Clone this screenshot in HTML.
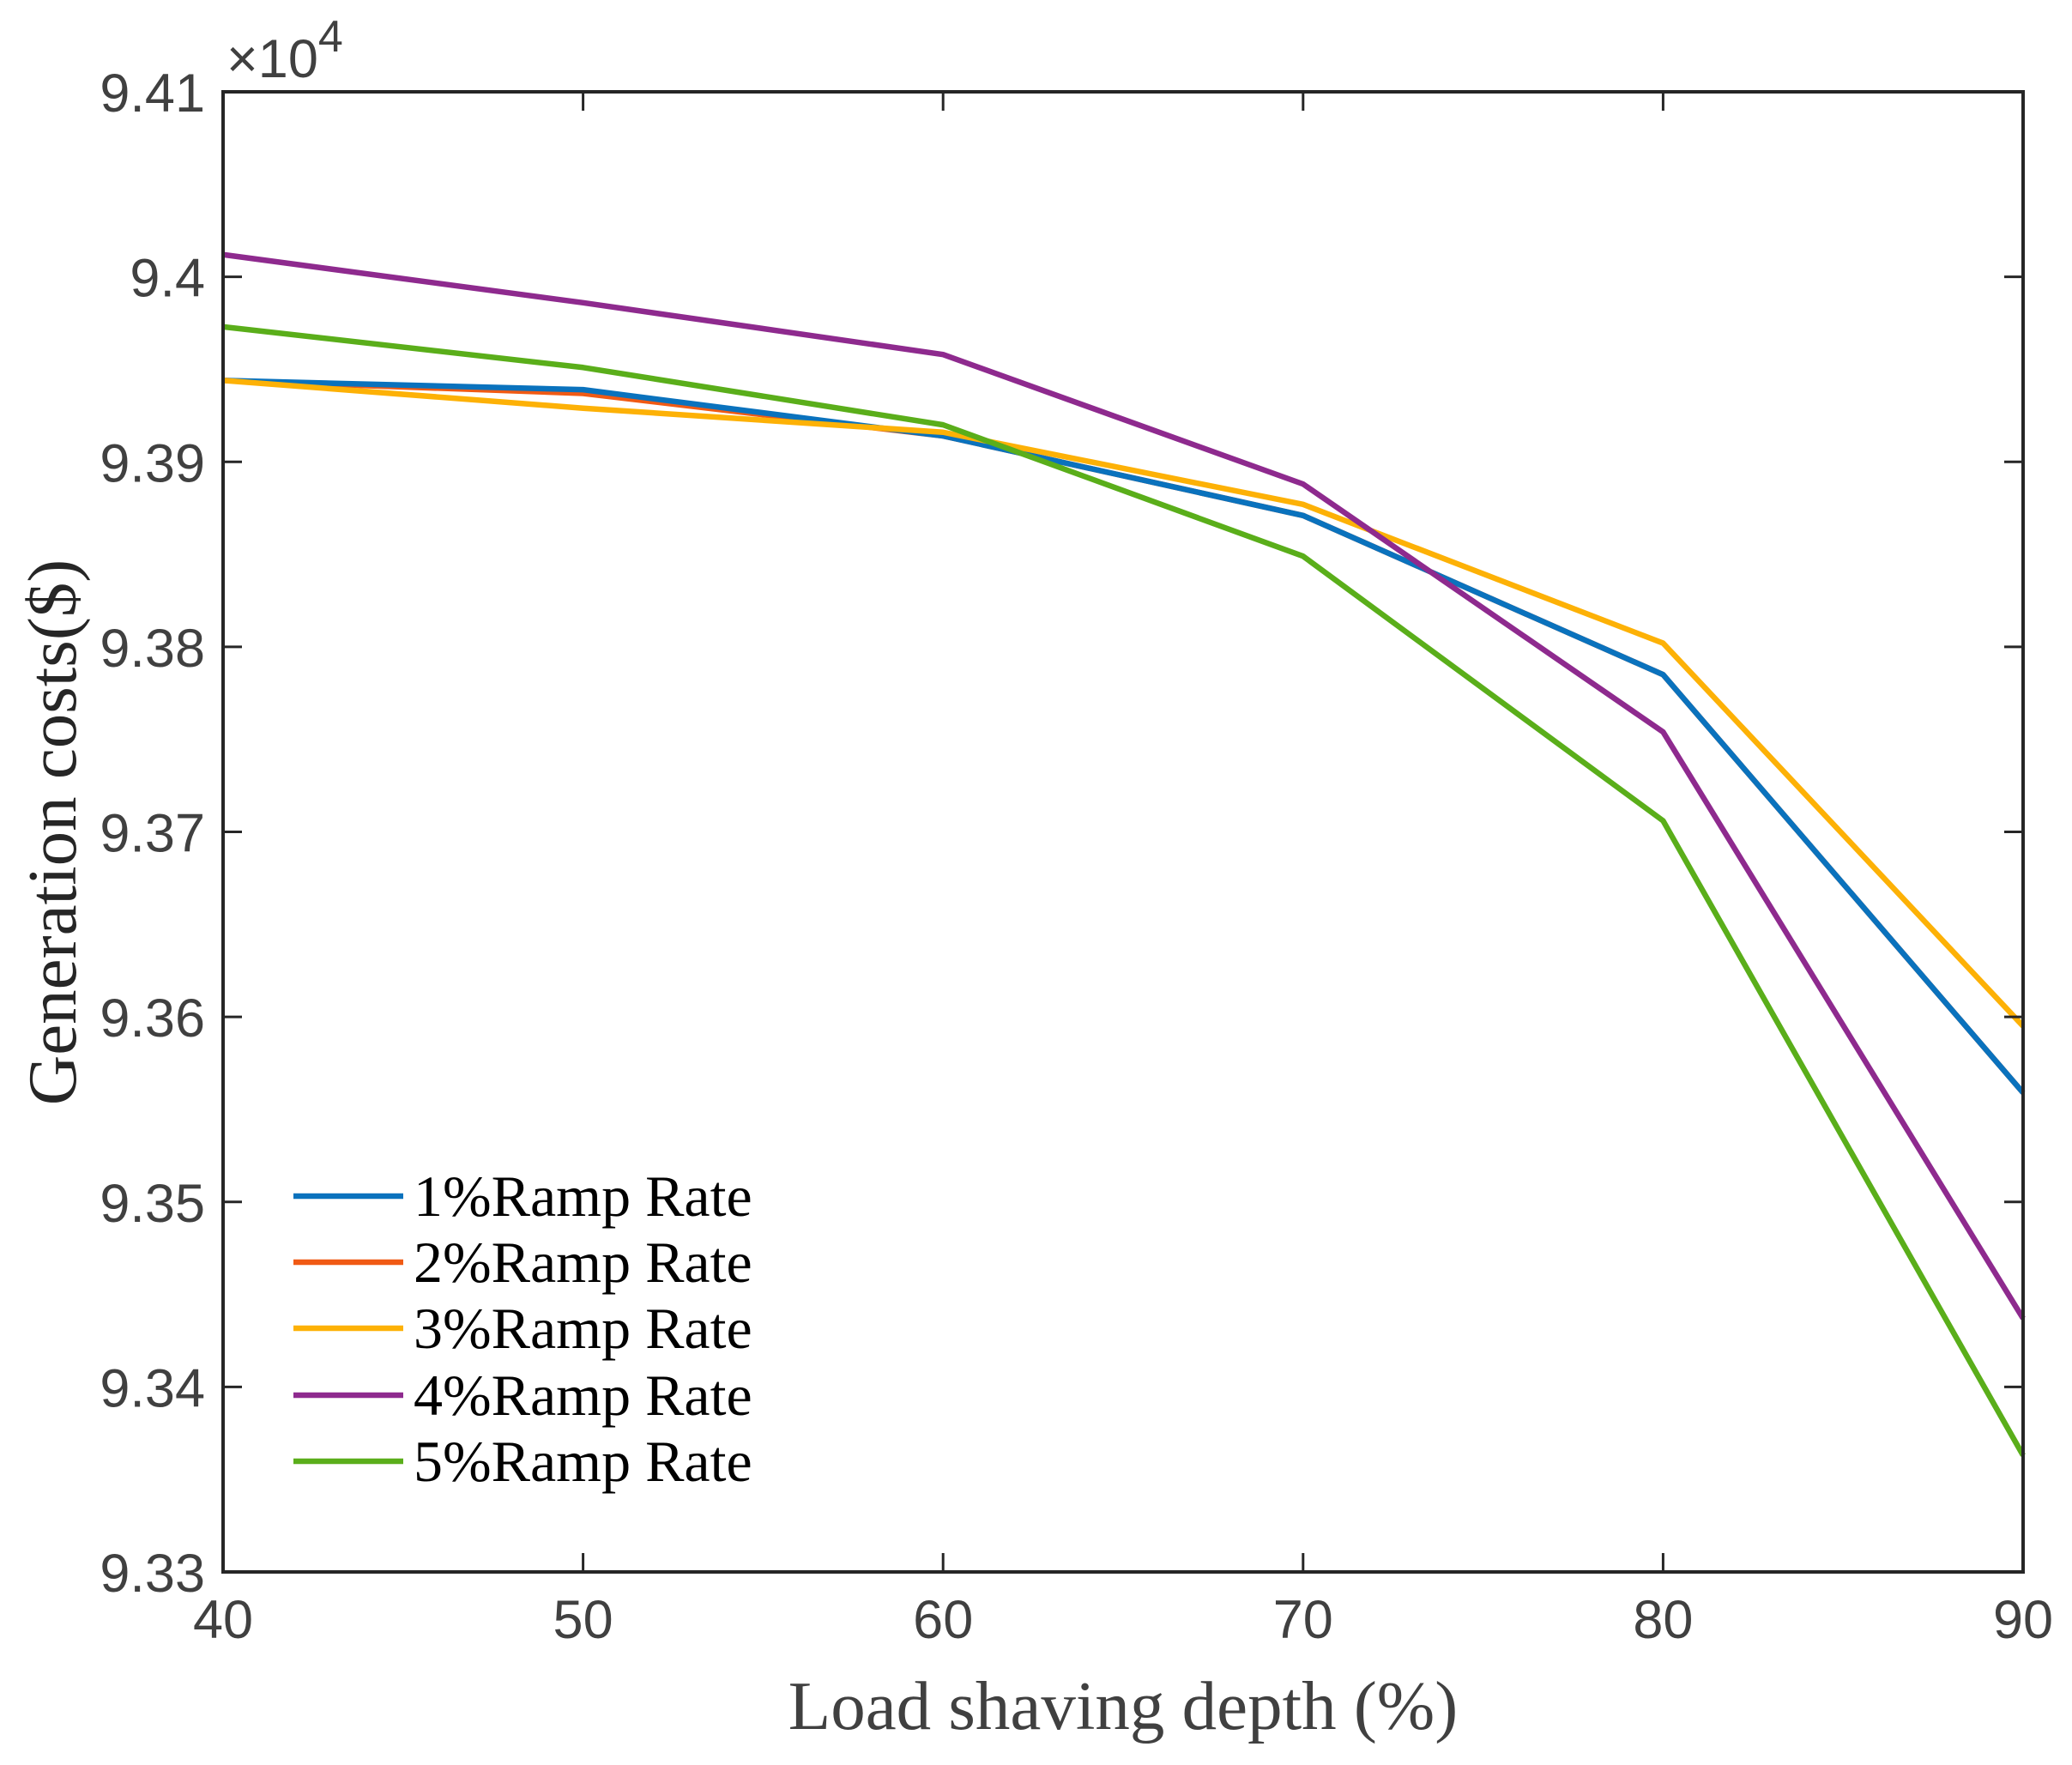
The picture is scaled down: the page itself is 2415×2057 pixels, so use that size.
<!DOCTYPE html>
<html><head><meta charset="utf-8"><style>
html,body{margin:0;padding:0;background:#fff;}
svg{display:block;}
</style></head><body>
<svg id="chart" width="2415" height="2057" viewBox="0 0 2415 2057" xmlns="http://www.w3.org/2000/svg">
<rect width="2415" height="2057" fill="#fff"/>
<g id="series"></g>
<g id="axes"></g>
<g id="legend"></g>
</svg>
<script>
const categories = [40, 50, 60, 70, 80, 90];
const seriesNames = ['1%Ramp Rate','2%Ramp Rate','3%Ramp Rate','4%Ramp Rate','5%Ramp Rate'];
const s1 = [9.3944, 9.3939, 9.3914, 9.3871, 9.3785, 9.3559];
const s2 = [9.3944, 9.3937, 9.3914, 9.3871, 9.3785, 9.3559];
const s3 = [9.3944, 9.3929, 9.3916, 9.3877, 9.3802, 9.3595];
const s4 = [9.4012, 9.3986, 9.3958, 9.3888, 9.3754, 9.3437];
const s5 = [9.3973, 9.3951, 9.3920, 9.3849, 9.3706, 9.3363];
const xTicks = [40, 50, 60, 70, 80, 90];
const yTicks = [9.33, 9.34, 9.35, 9.36, 9.37, 9.38, 9.39, 9.40, 9.41];
const yTickLabels = ['9.33','9.34','9.35','9.36','9.37','9.38','9.39','9.4','9.41'];

const NS='http://www.w3.org/2000/svg';
const L=260,R=2358,T=107,B=1832;
const xs=v=>L+(v-40)/(90-40)*(R-L);
const ys=v=>B-(v-9.33)/(9.41-9.33)*(B-T);
function mk(tag,attrs,parent){const e=document.createElementNS(NS,tag);for(const k in attrs)e.setAttribute(k,attrs[k]);parent.appendChild(e);return e;}
const drawColors=['#0a72bd','#f05a14','#fdb106','#8e2a8e','#5aae1a'];
const allSeries=[s1,s2,s3,s4,s5];
const gS=document.getElementById('series'),gA=document.getElementById('axes'),gL=document.getElementById('legend');
const order=[1,0,2,3,4];
order.forEach(i=>{
  const p=mk('polyline',{points:allSeries[i].map((v,j)=>xs(categories[j])+','+ys(v)).join(' '),fill:'none',stroke:drawColors[i],'stroke-width':6.5,'stroke-linejoin':'round'},gS);
  
  
});
const box=mk('rect',{x:L,y:T,width:R-L,height:B-T,fill:'none',stroke:'#262626','stroke-width':4},gA);


xTicks.forEach(v=>{
  const x=xs(v);
  mk('line',{x1:x,y1:B,x2:x,y2:B-22,stroke:'#262626','stroke-width':3},gA);
  mk('line',{x1:x,y1:T,x2:x,y2:T+22,stroke:'#262626','stroke-width':3},gA);
  const t=mk('text',{x:x,y:1909,'text-anchor':'middle','font-family':'Liberation Sans, Arial, sans-serif','font-size':63,fill:'#404040'},gA);
  t.textContent=v;
  
  
});
yTicks.forEach((v,i)=>{
  const y=ys(v);
  mk('line',{x1:L,y1:y,x2:L+22,y2:y,stroke:'#262626','stroke-width':3},gA);
  mk('line',{x1:R,y1:y,x2:R-22,y2:y,stroke:'#262626','stroke-width':3},gA);
  const t=mk('text',{x:239,y:y+23,'text-anchor':'end','font-family':'Liberation Sans, Arial, sans-serif','font-size':63,fill:'#404040'},gA);
  t.textContent=yTickLabels[i];
  
  
});
const ex=mk('text',{x:264,y:90,'font-family':'Liberation Sans, Arial, sans-serif','font-size':63,fill:'#404040'},gA);
ex.innerHTML='×10<tspan dy="-30" font-size="52">4</tspan>';


const xl=mk('text',{x:1309,y:2015,'text-anchor':'middle','font-family':'Liberation Serif, Times New Roman, serif','font-size':81,fill:'#404040'},gA);
xl.textContent='Load shaving depth (%)';


const yl=mk('text',{x:0,y:0,transform:'translate(88,970) rotate(-90)','text-anchor':'middle','font-family':'Liberation Serif, Times New Roman, serif','font-size':81,fill:'#262626'},gA);
yl.textContent='Generation costs($)';


const legYs=[1394,1471,1548,1626,1703];
seriesNames.forEach((n,i)=>{
  const g=mk('g',{},gL);
  
  
  mk('line',{x1:342,y1:legYs[i],x2:470,y2:legYs[i],stroke:drawColors[i],'stroke-width':6.5},g);
  const t=mk('text',{x:482,y:legYs[i]+23,'font-family':'Liberation Serif, Times New Roman, serif','font-size':68,fill:'#000'},g);
  t.textContent=n;
});
</script>
</body></html>
